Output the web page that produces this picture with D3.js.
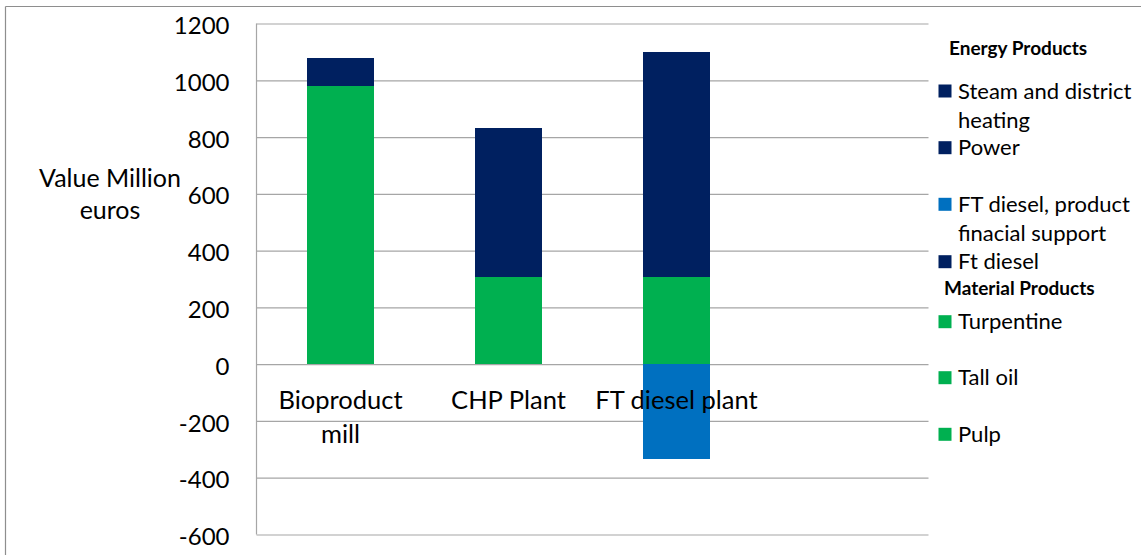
<!DOCTYPE html>
<html>
<head>
<meta charset="utf-8">
<script src="https://cdn.jsdelivr.net/npm/d3@7"></script>
<style>
  html, body { margin: 0; padding: 0; background: #fff; }
  svg { display: block; font-family: Lato, "Open Sans", sans-serif; }
</style>
</head>
<body>
<svg id="chart" width="1141" height="555"></svg>
<script>
// ---------------- data ----------------
const categories = ["Bioproduct mill", "CHP Plant", "FT diesel plant", ""];
const yTicks = [-600, -400, -200, 0, 200, 400, 600, 800, 1000, 1200];

// series values per category (Million euros)
const pulp        = [900, 250, 250, 0];
const tallOil     = [55, 40, 40, 0];
const turpentine  = [25, 17, 17, 0];
const ftDiesel    = [0, 0, 791, 0];
const ftSupport   = [0, 0, -335, 0];
const power       = [98, 300, 0, 0];
const steam       = [0, 224, 0, 0];

const seriesNames = ["Pulp", "Tall oil", "Turpentine", "Ft diesel",
  "FT diesel, product finacial support", "Power", "Steam and district heating"];
const seriesValues = [pulp, tallOil, turpentine, ftDiesel, ftSupport, power, steam];
const seriesColors = ["#00B050", "#00B050", "#00B050", "#002060", "#0070C0", "#002060", "#002060"];

// ---------------- layout ----------------
const W = 1141, H = 555;
const plot = { left: 256.5, right: 928.5, top: 23.5, bottom: 534.5 };
const svg = d3.select("#chart");

// outer frame (only top & left visible in the crop)
svg.append("line").attr("x1", 5.5).attr("x2", W).attr("y1", 6.5).attr("y2", 6.5)
  .attr("stroke", "#8e8e8e").attr("stroke-width", 1.2);
svg.append("line").attr("x1", 5.5).attr("x2", 5.5).attr("y1", 6.5).attr("y2", H)
  .attr("stroke", "#8e8e8e").attr("stroke-width", 1.2);

const x = d3.scaleBand().domain(categories.map((c, i) => i))
  .range([plot.left, plot.right]).paddingInner(0.6).paddingOuter(0.3);
const y = d3.scaleLinear().domain([-600, 1200]).range([plot.bottom, plot.top]);

// gridlines
const grid = svg.append("g").attr("transform", `translate(${plot.left},0)`)
  .call(d3.axisLeft(y).tickValues(yTicks).tickSize(-(plot.right - plot.left)).tickFormat(""));
grid.select(".domain").remove();
grid.selectAll(".tick line").attr("stroke", "#a6a6a6").attr("stroke-width", 1.2);

// left axis line
svg.append("line").attr("x1", plot.left).attr("x2", plot.left)
  .attr("y1", plot.top).attr("y2", plot.bottom)
  .attr("stroke", "#a6a6a6").attr("stroke-width", 1.2);

// tick labels
const yAxis = svg.append("g").attr("transform", `translate(${plot.left - 27},0)`)
  .call(d3.axisLeft(y).tickValues(yTicks).tickSize(0).tickPadding(0).tickFormat(d => String(d)));
yAxis.select(".domain").remove();
yAxis.selectAll("text").attr("font-family", "Lato, sans-serif")
  .attr("font-size", 24).attr("fill", "#000").attr("dy", "0.42em");

// stacked bars
const table = categories.map((c, i) => {
  const row = { idx: i };
  seriesNames.forEach((n, s) => row[n] = seriesValues[s][i]);
  return row;
});
const stacked = d3.stack().keys(seriesNames).offset(d3.stackOffsetDiverging)(table);

svg.append("g").attr("shape-rendering", "crispEdges")
  .selectAll("g").data(stacked).join("g")
  .attr("fill", (d, i) => seriesColors[i])
  .selectAll("rect").data(d => d).join("rect")
  .attr("x", d => x(d.data.idx))
  .attr("width", x.bandwidth())
  .attr("y", d => y(Math.max(d[0], d[1])))
  .attr("height", d => Math.abs(y(d[0]) - y(d[1])));

// category labels (drawn on top of bars)
const catLines = [["Bioproduct", "mill"], ["CHP Plant"], ["FT diesel plant"], []];
const catG = svg.append("g");
categories.forEach((c, i) => {
  const cx = x(i) + x.bandwidth() / 2;
  const t = catG.append("text").attr("text-anchor", "middle")
    .attr("font-size", 25.5).attr("fill", "#000");
  catLines[i].forEach((ln, k) => {
    t.append("tspan").attr("x", cx).attr("y", y(0) + 45 + k * 33.5).text(ln);
  });
});

// y title
const yt = svg.append("text").attr("text-anchor", "middle")
  .attr("font-size", 25).attr("fill", "#000");
yt.append("tspan").attr("x", 110).attr("y", 187).text("Value Million");
yt.append("tspan").attr("x", 110).attr("y", 218.5).text("euros");

// legend
const legendRows = [
  { header: "Energy Products", y: 55, x: 949 },
  { s: 6, lines: ["Steam and district", "heating"], cy: 91 },
  { s: 5, lines: ["Power"], cy: 147.7 },
  { s: 4, lines: ["FT diesel, product", "finacial support"], cy: 204.3 },
  { s: 3, lines: ["Ft diesel"], cy: 261.7 },
  { header: "Material Products", y: 295, x: 944 },
  { s: 2, lines: ["Turpentine"], cy: 321.7 },
  { s: 1, lines: ["Tall oil"], cy: 377.7 },
  { s: 0, lines: ["Pulp"], cy: 434.3 }
];
const lg = svg.append("g");
legendRows.forEach(r => {
  if (r.header) {
    lg.append("text").attr("x", r.x).attr("y", r.y).attr("font-size", 19)
      .attr("font-weight", "bold").attr("fill", "#000").text(r.header);
  } else {
    lg.append("rect").attr("x", 938.5).attr("y", r.cy - 6.5).attr("width", 13).attr("height", 13)
      .attr("fill", seriesColors[r.s]);
    const t = lg.append("text").attr("font-size", 22).attr("fill", "#000");
    r.lines.forEach((ln, k) => {
      t.append("tspan").attr("x", 958).attr("y", r.cy + 7.5 + k * 29.5).text(ln);
    });
  }
});
</script>
</body>
</html>
